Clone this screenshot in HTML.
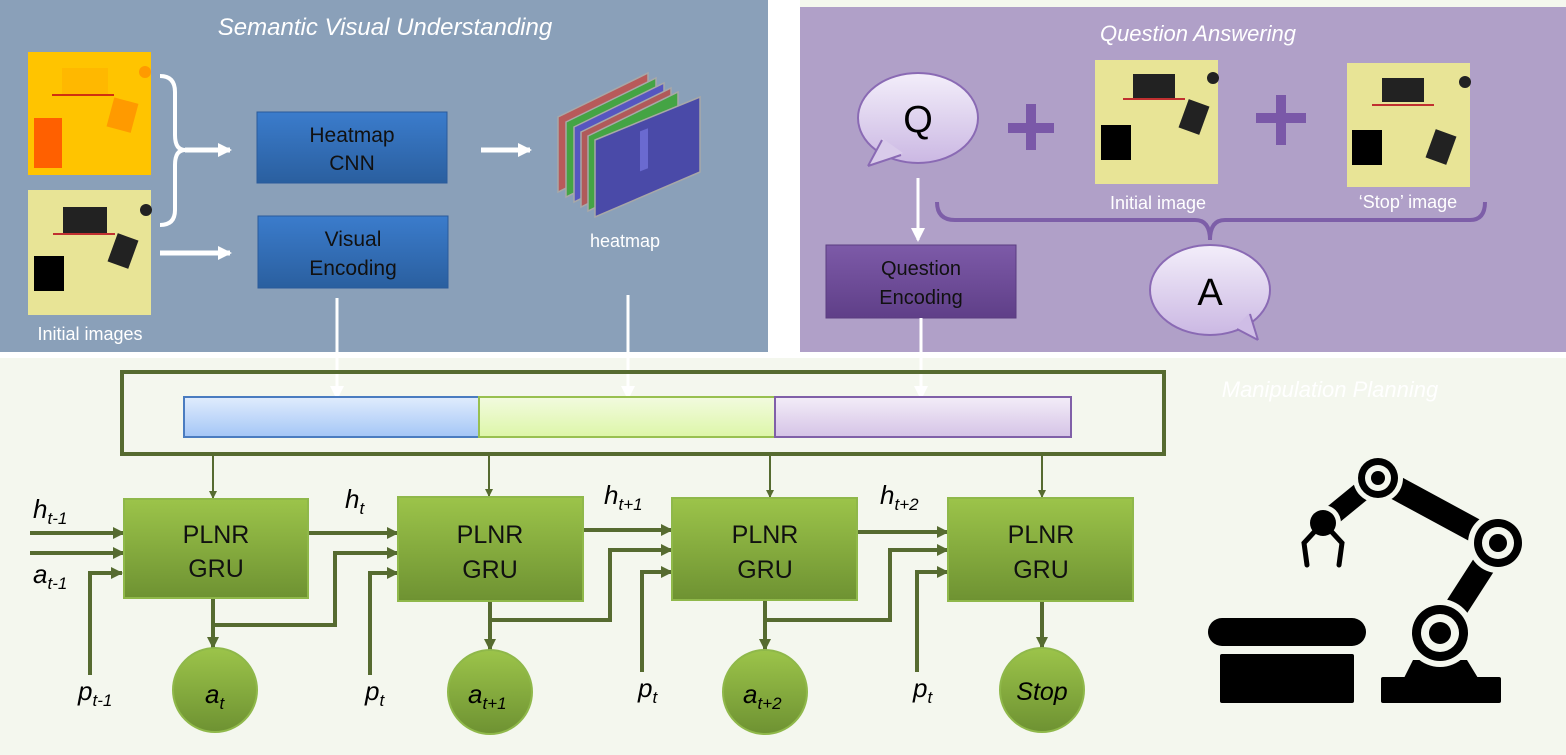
<!DOCTYPE html>
<html><head><meta charset="utf-8"><style>
html,body{margin:0;padding:0;background:#fff}
svg{display:block}
text{font-family:"Liberation Sans",sans-serif}
</style></head><body>
<svg width="1566" height="755" viewBox="0 0 1566 755" xmlns="http://www.w3.org/2000/svg">
<defs>
<linearGradient id="gb" x1="0" y1="0" x2="0" y2="1"><stop offset="0" stop-color="#3b7ccc"/><stop offset="1" stop-color="#2a5f9f"/></linearGradient>
<linearGradient id="gp" x1="0" y1="0" x2="0" y2="1"><stop offset="0" stop-color="#7d5aa8"/><stop offset="1" stop-color="#5f3f88"/></linearGradient>
<linearGradient id="gg" x1="0" y1="0" x2="0" y2="1"><stop offset="0" stop-color="#9cc44a"/><stop offset="1" stop-color="#6e9232"/></linearGradient>
<linearGradient id="gq" x1="0" y1="0" x2="0" y2="1"><stop offset="0" stop-color="#f3eefa"/><stop offset="1" stop-color="#cbb8e3"/></linearGradient>
<linearGradient id="b1" x1="0" y1="0" x2="0" y2="1"><stop offset="0" stop-color="#e0ecfd"/><stop offset="1" stop-color="#a4c6f6"/></linearGradient>
<linearGradient id="b2" x1="0" y1="0" x2="0" y2="1"><stop offset="0" stop-color="#f2fbdf"/><stop offset="1" stop-color="#ddf6a8"/></linearGradient>
<linearGradient id="b3" x1="0" y1="0" x2="0" y2="1"><stop offset="0" stop-color="#f3edf8"/><stop offset="1" stop-color="#d5c3e6"/></linearGradient>
<marker id="ag" markerWidth="8" markerHeight="8" refX="7" refY="4" orient="auto" markerUnits="userSpaceOnUse"><path d="M0,0 L8,4 L0,8z" fill="#566b30"/></marker>
<marker id="agl" markerWidth="12" markerHeight="12" refX="11" refY="6" orient="auto" markerUnits="userSpaceOnUse"><path d="M0,0 L12,6 L0,12z" fill="#566b30"/></marker>
<marker id="aw" markerWidth="14" markerHeight="14" refX="12" refY="7" orient="auto" markerUnits="userSpaceOnUse"><path d="M0,0 L14,7 L0,14z" fill="#fff"/></marker>
</defs>
<rect width="1566" height="755" fill="#f4f7ee"/>
<rect x="0" y="0" width="768" height="352" fill="#8aa0b9"/>
<rect x="800" y="7" width="766" height="345" fill="#b0a0c8"/>
<rect x="768" y="0" width="32" height="352" fill="#fff"/>
<rect x="0" y="352" width="1566" height="6" fill="#fff"/>

<text x="385" y="35" font-size="24" font-style="italic" fill="#fff" text-anchor="middle">Semantic Visual Understanding</text>
<rect x="28" y="52" width="123" height="123" fill="#ffc400"/>
<rect x="62" y="68" width="46" height="28" fill="#ffb800"/>
<rect x="52" y="94" width="62" height="2" fill="#d03010"/>
<rect x="110" y="100" width="25" height="30" fill="#ff9a00" transform="rotate(15 122 115)"/>
<rect x="34" y="118" width="28" height="50" fill="#ff6000"/>
<circle cx="145" cy="72" r="6" fill="#ff9a00"/>
<rect x="28" y="190" width="123" height="125" fill="#e8e496"/>
<rect x="63" y="207" width="44" height="26" fill="#222"/>
<rect x="53" y="233" width="62" height="2" fill="#c03030"/>
<rect x="112" y="236" width="22" height="30" fill="#222" transform="rotate(20 123 251)"/>
<rect x="34" y="256" width="30" height="35" fill="#000"/>
<circle cx="146" cy="210" r="6" fill="#222"/>
<text x="90" y="340" font-size="18" fill="#fff" text-anchor="middle">Initial images</text>
<path d="M160,76 Q175,76 175,92 L175,135 Q175,150 185,150 Q175,150 175,165 L175,210 Q175,225 160,225" fill="none" stroke="#fff" stroke-width="4"/>
<line x1="185" y1="150" x2="230" y2="150" stroke="#fff" stroke-width="5" marker-end="url(#aw)"/>
<line x1="160" y1="253" x2="230" y2="253" stroke="#fff" stroke-width="5" marker-end="url(#aw)"/>
<rect x="257" y="112" width="190" height="71" fill="url(#gb)" stroke="#2a5a9a"/>
<text x="352" y="142" font-size="21" text-anchor="middle" fill="#111">Heatmap</text>
<text x="352" y="170" font-size="21" text-anchor="middle" fill="#111">CNN</text>
<rect x="258" y="216" width="190" height="72" fill="url(#gb)" stroke="#2a5a9a"/>
<text x="353" y="246" font-size="21" text-anchor="middle" fill="#111">Visual</text>
<text x="353" y="275" font-size="21" text-anchor="middle" fill="#111">Encoding</text>
<line x1="481" y1="150" x2="530" y2="150" stroke="#fff" stroke-width="5" marker-end="url(#aw)"/>
<g stroke="#a8a8a8" stroke-width="1.5">
<polygon points="558,117 648,73 648,148 558,192" fill="#b85a5a"/>
<polygon points="566,122 656,78 656,153 566,197" fill="#44a444"/>
<polygon points="574,127 664,83 664,158 574,202" fill="#5656c0"/>
<polygon points="581,132 671,88 671,163 581,207" fill="#b05a5a"/>
<polygon points="588,136 678,92 678,167 588,211" fill="#44a444"/>
<polygon points="595,140 700,97 700,172 595,217" fill="#4a4aa8"/>
</g>
<rect x="640" y="130" width="8" height="40" fill="#6a6ad0" transform="skewY(-22) translate(0,260)"/>
<text x="625" y="247" font-size="18" fill="#fff" text-anchor="middle">heatmap</text>
<line x1="337" y1="298" x2="337" y2="398" stroke="#fff" stroke-width="3" marker-end="url(#aw)"/>
<line x1="628" y1="295" x2="628" y2="398" stroke="#fff" stroke-width="3" marker-end="url(#aw)"/>

<text x="1198" y="41" font-size="22" font-style="italic" fill="#fff" text-anchor="middle">Question Answering</text>
<ellipse cx="918" cy="118" rx="60" ry="45" fill="url(#gq)" stroke="#8a6ab4" stroke-width="2"/>
<path d="M868,166 L882,138 L903,153 Z" fill="#d9cbea"/>
<path d="M868,166 L882,140 M868,166 L901,155" stroke="#8a6ab4" stroke-width="2" fill="none"/>
<text x="918" y="132" font-size="38" text-anchor="middle" fill="#000">Q</text>
<g fill="#7a58a8"><rect x="1008" y="123" width="46" height="10"/><rect x="1026" y="104" width="10" height="46"/>
<rect x="1256" y="113" width="50" height="10"/><rect x="1276" y="95" width="10" height="50"/></g>
<rect x="1095" y="60" width="123" height="124" fill="#e8e496"/>
<rect x="1133" y="74" width="42" height="24" fill="#222"/><rect x="1123" y="98" width="62" height="2" fill="#c03030"/>
<rect x="1183" y="102" width="22" height="30" fill="#222" transform="rotate(20 1194 117)"/><rect x="1101" y="125" width="30" height="35" fill="#000"/><circle cx="1213" cy="78" r="6" fill="#222"/>
<rect x="1347" y="63" width="123" height="124" fill="#e8e496"/>
<rect x="1382" y="78" width="42" height="24" fill="#222"/><rect x="1372" y="104" width="62" height="2" fill="#c03030"/>
<rect x="1430" y="132" width="22" height="30" fill="#222" transform="rotate(20 1441 147)"/><rect x="1352" y="130" width="30" height="35" fill="#000"/><circle cx="1465" cy="82" r="6" fill="#222"/>
<text x="1158" y="209" font-size="18" fill="#fff" text-anchor="middle">Initial image</text>
<text x="1408" y="208" font-size="18" fill="#fff" text-anchor="middle">‘Stop’ image</text>
<path d="M937,202 Q937,220 955,220 L1195,220 Q1210,220 1210,240 Q1210,220 1225,220 L1470,220 Q1485,220 1485,202" fill="none" stroke="#7d5ea8" stroke-width="4"/>
<ellipse cx="1210" cy="290" rx="60" ry="45" fill="url(#gq)" stroke="#8a6ab4" stroke-width="2"/>
<path d="M1258,340 L1250,312 L1235,328 Z" fill="#cfbde6"/>
<path d="M1258,340 L1250,314 M1258,340 L1237,329" stroke="#8a6ab4" stroke-width="2" fill="none"/>
<text x="1210" y="305" font-size="38" text-anchor="middle" fill="#000">A</text>
<line x1="918" y1="178" x2="918" y2="240" stroke="#fff" stroke-width="3" marker-end="url(#aw)"/>
<rect x="826" y="245" width="190" height="73" fill="url(#gp)" stroke="#5a3c80"/>
<text x="921" y="275" font-size="20" text-anchor="middle" fill="#111">Question</text>
<text x="921" y="304" font-size="20" text-anchor="middle" fill="#111">Encoding</text>
<line x1="921" y1="318" x2="921" y2="398" stroke="#fff" stroke-width="3" marker-end="url(#aw)"/>

<text x="1330" y="397" font-size="22" font-style="italic" fill="#fff" text-anchor="middle">Manipulation Planning</text>
<rect x="122" y="372" width="1042" height="82" fill="none" stroke="#566b30" stroke-width="4"/>
<rect x="184" y="397" width="295" height="40" fill="url(#b1)" stroke="#4a7cc0" stroke-width="2"/>
<rect x="479" y="397" width="296" height="40" fill="url(#b2)" stroke="#98c050" stroke-width="2"/>
<rect x="775" y="397" width="296" height="40" fill="url(#b3)" stroke="#8060a8" stroke-width="2"/>
<g stroke="#566b30" stroke-width="2" fill="none" marker-end="url(#ag)">
<line x1="213" y1="454" x2="213" y2="498"/><line x1="489" y1="454" x2="489" y2="496"/>
<line x1="770" y1="454" x2="770" y2="497"/><line x1="1042" y1="454" x2="1042" y2="497"/>
</g>
<g stroke="#566b30" stroke-width="4" fill="none" marker-end="url(#agl)">
<line x1="30" y1="533" x2="124" y2="533"/><line x1="30" y1="553" x2="124" y2="553"/>
<polyline points="90,675 90,573 122,573"/>
<line x1="308" y1="533" x2="398" y2="533"/>
<polyline points="213,625 335,625 335,553 398,553"/>
<polyline points="370,675 370,573 398,573"/>
<line x1="583" y1="530" x2="672" y2="530"/>
<polyline points="490,620 610,620 610,550 672,550"/>
<polyline points="642,672 642,572 672,572"/>
<line x1="857" y1="532" x2="948" y2="532"/>
<polyline points="765,620 890,620 890,550 948,550"/>
<polyline points="917,672 917,572 948,572"/>
<line x1="213" y1="598" x2="213" y2="648"/><line x1="490" y1="601" x2="490" y2="650"/>
<line x1="765" y1="600" x2="765" y2="650"/><line x1="1042" y1="601" x2="1042" y2="648"/>
</g>
<g fill="url(#gg)" stroke="#8fb84a" stroke-width="2">
<rect x="124" y="499" width="184" height="99"/><rect x="398" y="497" width="185" height="104"/>
<rect x="672" y="498" width="185" height="102"/><rect x="948" y="498" width="185" height="103"/>
<ellipse cx="215" cy="690" rx="42" ry="42"/><ellipse cx="490" cy="692" rx="42" ry="42"/>
<ellipse cx="765" cy="692" rx="42" ry="42"/><ellipse cx="1042" cy="690" rx="42" ry="42"/>
</g>
<g font-size="25" text-anchor="middle" fill="#111">
<text x="216" y="543">PLNR</text><text x="216" y="577">GRU</text>
<text x="490" y="543">PLNR</text><text x="490" y="578">GRU</text>
<text x="765" y="543">PLNR</text><text x="765" y="578">GRU</text>
<text x="1041" y="543">PLNR</text><text x="1041" y="578">GRU</text>
</g>
<g font-style="italic" fill="#000" font-size="26">
<text x="205" y="703">a<tspan font-size="17" dy="6">t</tspan></text>
<text x="468" y="703">a<tspan font-size="17" dy="6">t+1</tspan></text>
<text x="743" y="703">a<tspan font-size="17" dy="6">t+2</tspan></text>
<text x="1042" y="700" text-anchor="middle" font-size="25">Stop</text>
<text x="33" y="518">h<tspan font-size="17" dy="6">t-1</tspan></text>
<text x="33" y="583">a<tspan font-size="17" dy="6">t-1</tspan></text>
<text x="78" y="700">p<tspan font-size="17" dy="6">t-1</tspan></text>
<text x="345" y="508">h<tspan font-size="17" dy="6">t</tspan></text>
<text x="365" y="700">p<tspan font-size="17" dy="6">t</tspan></text>
<text x="604" y="504">h<tspan font-size="17" dy="6">t+1</tspan></text>
<text x="638" y="697">p<tspan font-size="17" dy="6">t</tspan></text>
<text x="880" y="504">h<tspan font-size="17" dy="6">t+2</tspan></text>
<text x="913" y="697">p<tspan font-size="17" dy="6">t</tspan></text>
</g>

<!-- robot -->
<g fill="#000">
<rect x="1208" y="618" width="158" height="28" rx="14"/>
<rect x="1220" y="654" width="134" height="49" rx="2"/>
<rect x="1381" y="677" width="120" height="26" rx="2"/>
<polygon points="1404,678 1413,660 1467,660 1478,678"/>
</g>
<g stroke="#000" stroke-width="24" fill="none">
<line x1="1440" y1="633" x2="1498" y2="543"/>
<line x1="1378" y1="478" x2="1498" y2="543"/>
<line x1="1378" y1="478" x2="1323" y2="523" stroke-width="20"/>
</g>
<g fill="#f4f7ee"><circle cx="1440" cy="633" r="34"/><circle cx="1498" cy="543" r="30"/><circle cx="1378" cy="478" r="25"/><circle cx="1323" cy="523" r="18"/></g>
<g fill="#000"><circle cx="1440" cy="633" r="28"/><circle cx="1498" cy="543" r="24"/><circle cx="1378" cy="478" r="20"/><circle cx="1323" cy="523" r="13"/></g>
<g fill="#f4f7ee"><circle cx="1440" cy="633" r="19"/><circle cx="1498" cy="543" r="16"/><circle cx="1378" cy="478" r="13"/></g>
<g fill="#000"><circle cx="1440" cy="633" r="11"/><circle cx="1498" cy="543" r="9"/><circle cx="1378" cy="478" r="7"/></g>
<path d="M1316,530 L1304,543 L1307,565 M1330,530 L1342,543 L1339,565" stroke="#000" stroke-width="5" fill="none" stroke-linecap="round"/>
</svg>
</body></html>
